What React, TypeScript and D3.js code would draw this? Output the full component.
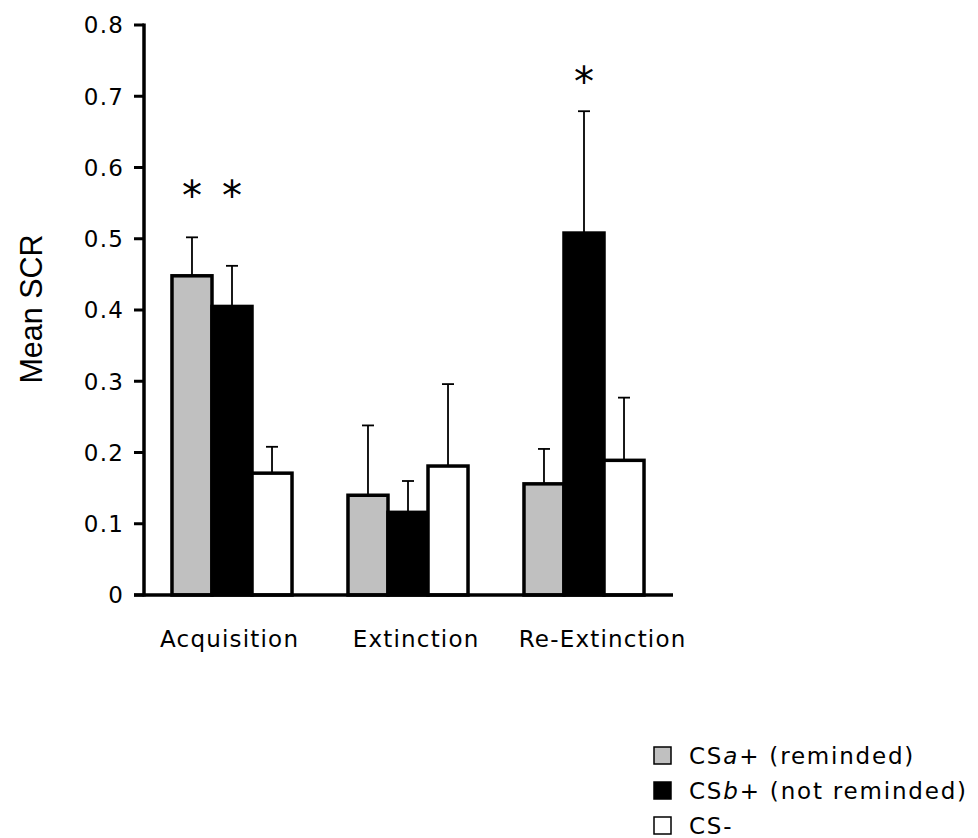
import React from "react";
import * as d3 from "d3";

const categories = ["Acquisition", "Extinction", "Re-Extinction"];
const seriesKeys = ["csa", "csb", "csminus"];
const seriesColors = ["#c0c0c0", "#000000", "#ffffff"];
const csaValues = [0.448, 0.14, 0.156];
const csaErrors = [0.054, 0.098, 0.049];
const csbValues = [0.405, 0.116, 0.508];
const csbErrors = [0.057, 0.044, 0.171];
const csminusValues = [0.171, 0.181, 0.189];
const csminusErrors = [0.037, 0.115, 0.088];
const yTicks = [0, 0.1, 0.2, 0.3, 0.4, 0.5, 0.6, 0.7, 0.8];
const yTickLabels = ["0", "0.1", "0.2", "0.3", "0.4", "0.5", "0.6", "0.7", "0.8"];
const starCategories = ["Acquisition", "Acquisition", "Re-Extinction"];
const starSeries = ["csa", "csb", "csb"];
const starLevels = [0.57, 0.57, 0.73];

const W = 978;
const H = 838;
const FONT = "'DejaVu Sans', Verdana, sans-serif";

export default function App() {
  const y = d3.scaleLinear().domain([0, 0.8]).range([595, 25]);
  const x0 = d3.scaleBand<string>().domain(categories).range([144, 672]).paddingInner(0.318).paddingOuter(0.159);
  const x1 = d3.scaleBand<string>().domain(seriesKeys).range([0, x0.bandwidth()]);
  const xLabel = d3.scalePoint<string>().domain(categories).range([229, 602]);
  const values = [csaValues, csbValues, csminusValues];
  const errors = [csaErrors, csbErrors, csminusErrors];
  const axisX = 144;
  const cap = 6;

  const legendItems = [
    { color: seriesColors[0], parts: [["CS", false], ["a", true], ["+ (reminded)", false]] },
    { color: seriesColors[1], parts: [["CS", false], ["b", true], ["+ (not reminded)", false]] },
    { color: seriesColors[2], parts: [["CS-", false]] },
  ];

  return (
    <svg width={W} height={H} style={{ display: "block", position: "absolute", left: 0, top: 0, background: "#fff" }}>
      <rect x={0} y={0} width={W} height={H} fill="#fff" />
      {categories.map((c, ci) => (
        <g key={c} transform={`translate(${x0(c)},0)`}>
          {seriesKeys.map((s, si) => {
            const v = values[si][ci];
            const e = errors[si][ci];
            const bx = x1(s)!;
            const bw = x1.bandwidth();
            const cx = bx + bw / 2;
            return (
              <g key={s}>
                <line x1={cx} x2={cx} y1={y(v)} y2={y(v + e)} stroke="#000" strokeWidth={1.8} />
                <line x1={cx - cap} x2={cx + cap} y1={y(v + e)} y2={y(v + e)} stroke="#000" strokeWidth={1.8} />
                <rect x={bx} y={y(v)} width={bw} height={y(0) - y(v)} fill={seriesColors[si]} stroke="#000" strokeWidth={3.5} />
              </g>
            );
          })}
        </g>
      ))}
      <line x1={axisX} x2={axisX} y1={y(0.8) - 1.5} y2={y(0) + 1.5} stroke="#000" strokeWidth={3.5} />
      <line x1={134} x2={673} y1={y(0)} y2={y(0)} stroke="#000" strokeWidth={3.5} />
      {yTicks.map((t, i) => (
        <g key={t}>
          <line x1={134} x2={axisX} y1={y(t)} y2={y(t)} stroke="#000" strokeWidth={3} />
          <text x={124} y={y(t)} dy="0.36em" textAnchor="end" fontFamily={FONT} fontSize={23} letterSpacing={1.2} fill="#000">
            {yTickLabels[i]}
          </text>
        </g>
      ))}
      {categories.map((c) => (
        <text key={c} x={xLabel(c)! + 0.6} y={647} textAnchor="middle" fontFamily={FONT} fontSize={23} letterSpacing={1.2} fill="#000">
          {c}
        </text>
      ))}
      <text transform={`translate(42,${309}) rotate(-90)`} textAnchor="middle" fontFamily="'Liberation Sans', Arial, sans-serif" fontSize={30.5} fill="#000">
        Mean SCR
      </text>
      {starCategories.map((c, i) => (
        <text key={i} x={x0(c)! + x1(starSeries[i])! + x1.bandwidth() / 2} y={y(starLevels[i]) + 21} textAnchor="middle" fontFamily={FONT} fontSize={40} fill="#000">
          *
        </text>
      ))}
      {legendItems.map((it, i) => (
        <g key={i} transform={`translate(654,${747 + i * 35})`}>
          <rect x={0} y={0} width={17} height={17} fill={it.color} stroke="#000" strokeWidth={1.5} />
          <text x={35} y={17} fontFamily={FONT} fontSize={23} letterSpacing={1.8} fill="#000">
            {it.parts.map((p, j) => (
              <tspan key={j} fontStyle={p[1] ? "italic" : "normal"}>{p[0] as string}</tspan>
            ))}
          </text>
        </g>
      ))}
    </svg>
  );
}
